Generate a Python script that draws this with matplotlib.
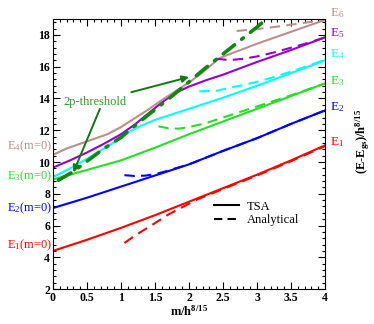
import matplotlib
matplotlib.use("Agg")
import matplotlib.pyplot as plt
from matplotlib.ticker import MultipleLocator, FuncFormatter

plt.rcParams['font.family'] = ['Liberation Serif', 'DejaVu Serif']
plt.rcParams['mathtext.fontset'] = 'custom'
plt.rcParams['mathtext.rm'] = 'Liberation Serif'
plt.rcParams['mathtext.it'] = 'Liberation Serif:italic'
plt.rcParams['mathtext.bf'] = 'Liberation Serif:bold'

# TSA curves
x_low = [0, 0.5, 1, 1.5, 2, 2.5, 3, 3.5, 4]
e1_tsa = [4.4, 5.1, 5.85, 6.65, 7.5, 8.35, 9.2, 10.1, 11.05]
e2_tsa = [7.1, 7.75, 8.45, 9.15, 9.85, 10.7, 11.5, 12.4, 13.25]
e3_tsa = [8.9, 9.5, 10.1, 10.9, 11.75, 12.55, 13.35, 14.15, 14.95]

x_e4 = [0, 0.25, 0.5, 0.75, 1.0, 1.1, 1.25, 1.5, 2.0, 2.5, 3.0, 3.5, 4.0]
e4_tsa = [9.05, 9.6, 10.2, 10.85, 11.5, 11.85, 12.2, 12.65, 13.35, 14.05, 14.8, 15.6, 16.4]

x_e5 = [0, 0.25, 0.5, 0.75, 1.0, 1.2, 1.4, 1.6, 1.8, 2.0, 2.25, 2.5, 3.0, 3.5, 4.0]
e5_tsa = [9.65, 10.1, 10.6, 11.15, 11.75, 12.35, 13.05, 13.75, 14.35, 14.75, 15.15, 15.5, 16.3, 17.05, 17.85]

x_e6 = [0, 0.2, 0.4, 0.6, 0.8, 1.0, 1.2, 1.4, 1.6, 1.8, 2.0, 2.2, 2.45, 3.0, 3.5, 4.0]
e6_tsa = [10.45, 10.85, 11.15, 11.45, 11.75, 12.2, 12.75, 13.3, 13.9, 14.45, 15.0, 15.65, 16.55, 17.45, 18.2, 18.95]

# analytical curves
x_e1a = [1.05, 1.2, 1.35, 1.5, 1.7, 1.9, 2.1, 2.5, 3.0, 3.5, 4.0]
e1_an = [4.9, 5.35, 5.75, 6.15, 6.7, 7.15, 7.6, 8.3, 9.15, 10.05, 11.0]
x_e2a = [1.05, 1.2, 1.35, 1.5, 1.65, 1.8, 2.0, 2.5, 3.0, 3.5, 4.0]
e2_an = [9.17, 9.12, 9.14, 9.23, 9.4, 9.6, 9.85, 10.7, 11.5, 12.4, 13.25]
x_e3a = [1.55, 1.7, 1.85, 2.0, 2.25, 2.5, 2.75, 3.0, 3.25, 3.5, 4.0]
e3_an = [12.25, 12.12, 12.1, 12.2, 12.45, 12.8, 13.15, 13.5, 13.85, 14.2, 14.95]
x_e4a = [2.15, 2.4, 2.6, 2.8, 3.0, 3.25, 3.5, 3.75, 4.0]
e4_an = [14.45, 14.48, 14.68, 14.85, 15.05, 15.35, 15.7, 16.05, 16.45]
x_e5a = [2.4, 2.6, 2.8, 3.0, 3.25, 3.5, 3.75, 4.0]
e5_an = [16.5, 16.42, 16.5, 16.65, 16.9, 17.2, 17.5, 17.85]
x_e6a = [2.7, 3.0, 3.25, 3.5, 3.75, 4.0]
e6_an = [18.25, 18.38, 18.5, 18.65, 18.8, 18.97]

# 2p threshold
x_thr = [0.08, 0.3, 0.5, 0.75, 1.0, 1.25, 1.5, 1.75, 2.0, 2.25, 2.5, 2.75, 3.0, 3.15]
thr = [8.85, 9.4, 10.05, 10.85, 11.55, 12.45, 13.3, 14.15, 15.05, 15.95, 16.8, 17.65, 18.5, 19.05]

colors = ['#ff0000', '#0000ff', '#22e022', '#00ffff', '#9400d3', '#bc8f8f']
left_labels = ['E$_1$(m=0)', 'E$_2$(m=0)', 'E$_3$(m=0)', 'E$_4$(m=0)']
left_y = [4.77, 7.08, 9.1, 11.0]
right_labels = ['E$_1$', 'E$_2$', 'E$_3$', 'E$_4$', 'E$_5$', 'E$_6$']
right_y = [11.25, 13.45, 15.1, 16.8, 18.1, 19.4]

fig = plt.figure(figsize=(3.74, 3.24), dpi=100)
ax = fig.add_axes([0.1417, 0.108, 0.7273, 0.833])

tsa = [(x_low, e1_tsa), (x_low, e2_tsa), (x_low, e3_tsa), (x_e4, e4_tsa), (x_e5, e5_tsa), (x_e6, e6_tsa)]
ana = [(x_e1a, e1_an), (x_e2a, e2_an), (x_e3a, e3_an), (x_e4a, e4_an), (x_e5a, e5_an), (x_e6a, e6_an)]
for (xs, ys), c in zip(tsa, colors):
    ax.plot(xs, ys, color=c, lw=1.5)
for (xs, ys), c in zip(ana, colors):
    ax.plot(xs, ys, color=c, lw=1.5, dashes=(5, 3))

ax.plot(x_thr, thr, color='#118811', lw=2.6, dashes=(4, 2.5, 0.6, 2.5), dash_capstyle='round')

ax.annotate('2p-threshold', xy=(2.0, 15.35), xytext=(0.62, 13.8), color='#22a022', fontsize=9,
            ha='center', va='center',
            arrowprops=dict(arrowstyle='-|>', color='#117711', lw=1.4, mutation_scale=10, shrinkA=2, shrinkB=0))
ax.annotate('', xy=(0.3, 9.35), xytext=(0.69, 13.35),
            arrowprops=dict(arrowstyle='-|>', color='#117711', lw=1.4, mutation_scale=10, shrinkA=0, shrinkB=0))

ax.plot([], [], color='black', lw=1.5, label='TSA')
ax.plot([], [], color='black', lw=1.5, dashes=(4, 2.5), label='Analytical')
ax.legend(loc='upper left', bbox_to_anchor=(0.57, 0.35), frameon=False, fontsize=9,
          handlelength=2.0, handletextpad=0.6, labelspacing=0.1, borderpad=0)

for lab, y, c in zip(left_labels, left_y, colors[:3] + [colors[5]]):
    ax.text(-0.02, y, lab, color=c, fontsize=9, ha='right', va='center', clip_on=False)
for lab, y, c in zip(right_labels, right_y, colors):
    ax.text(4.07, y, lab, color=c, fontsize=9.5, ha='left', va='center', clip_on=False)

ax.set_xlim(0, 4)
ax.set_ylim(2, 19)
ax.xaxis.set_major_locator(MultipleLocator(0.5))
ax.xaxis.set_minor_locator(MultipleLocator(0.1))
ax.yaxis.set_major_locator(MultipleLocator(2))
ax.yaxis.set_minor_locator(MultipleLocator(0.4))
ax.xaxis.set_major_formatter(FuncFormatter(lambda v, p: '%g' % v))
ax.tick_params(which='both', direction='in', top=True, right=True, labelsize=8.5, pad=2)
ax.tick_params(which='major', length=5, width=0.8)
ax.tick_params(which='minor', length=2.5, width=0.8)
for t in ax.get_xticklabels() + ax.get_yticklabels():
    t.set_fontweight('bold')

ax.set_xlabel(r'm/h$^{\mathbf{8/15}}$', fontsize=9, fontweight='bold', labelpad=0)
fig.text(0.97, 0.562, r'(E-E$_{\mathbf{gs}}$)/h$^{\mathbf{8/15}}$', rotation=90, fontsize=9,
         fontweight='bold', ha='center', va='center')

fig.savefig('out.png', dpi=100)
